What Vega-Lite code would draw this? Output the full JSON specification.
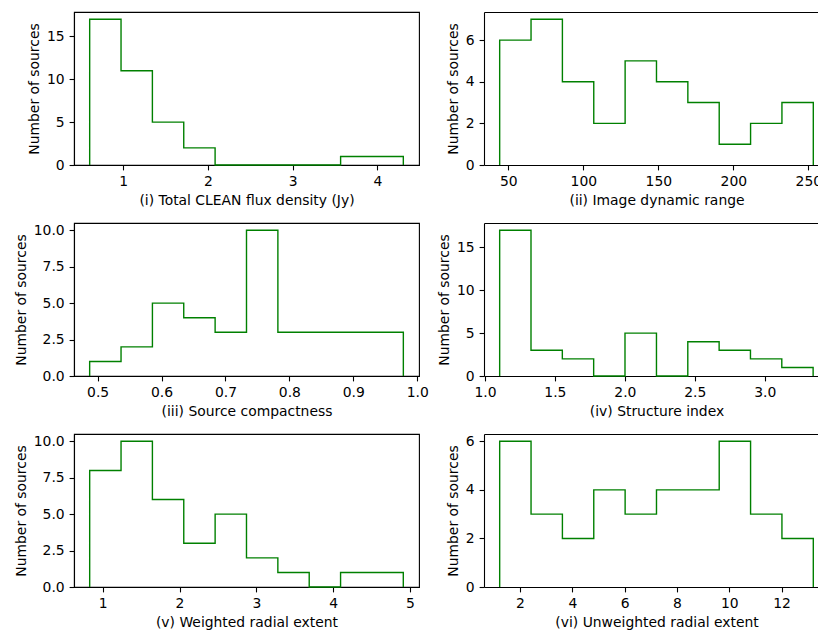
{
  "$schema": "https://vega.github.io/schema/vega-lite/v6.json",
  "padding": {"left": 13, "top": 11, "right": 0, "bottom": 0},
  "background": "white",
  "datasets": {
    "flux": [
      {"i": 0, "edge": 0.606, "n": 0}, {"i": 1, "edge": 0.606, "n": 17}, {"i": 2, "edge": 0.976, "n": 11},
      {"i": 3, "edge": 1.346, "n": 5}, {"i": 4, "edge": 1.716, "n": 2}, {"i": 5, "edge": 2.086, "n": 0},
      {"i": 6, "edge": 2.457, "n": 0}, {"i": 7, "edge": 2.827, "n": 0}, {"i": 8, "edge": 3.197, "n": 0},
      {"i": 9, "edge": 3.567, "n": 1}, {"i": 10, "edge": 3.937, "n": 1}, {"i": 11, "edge": 4.307, "n": 1},
      {"i": 12, "edge": 4.307, "n": 0}
    ],
    "dynrange": [
      {"i": 0, "edge": 44.2, "n": 0}, {"i": 1, "edge": 44.2, "n": 6}, {"i": 2, "edge": 65.11, "n": 7},
      {"i": 3, "edge": 86.02, "n": 4}, {"i": 4, "edge": 106.93, "n": 2}, {"i": 5, "edge": 127.84, "n": 5},
      {"i": 6, "edge": 148.75, "n": 4}, {"i": 7, "edge": 169.66, "n": 3}, {"i": 8, "edge": 190.57, "n": 1},
      {"i": 9, "edge": 211.48, "n": 2}, {"i": 10, "edge": 232.39, "n": 3}, {"i": 11, "edge": 253.3, "n": 3},
      {"i": 12, "edge": 253.3, "n": 0}
    ],
    "compactness": [
      {"i": 0, "edge": 0.4875, "n": 0}, {"i": 1, "edge": 0.4875, "n": 1}, {"i": 2, "edge": 0.5366, "n": 2},
      {"i": 3, "edge": 0.5857, "n": 5}, {"i": 4, "edge": 0.6347, "n": 4}, {"i": 5, "edge": 0.6838, "n": 3},
      {"i": 6, "edge": 0.7329, "n": 10}, {"i": 7, "edge": 0.782, "n": 3}, {"i": 8, "edge": 0.8311, "n": 3},
      {"i": 9, "edge": 0.8802, "n": 3}, {"i": 10, "edge": 0.9292, "n": 3}, {"i": 11, "edge": 0.9783, "n": 3},
      {"i": 12, "edge": 0.9783, "n": 0}
    ],
    "structure": [
      {"i": 0, "edge": 1.105, "n": 0}, {"i": 1, "edge": 1.105, "n": 17}, {"i": 2, "edge": 1.329, "n": 3},
      {"i": 3, "edge": 1.553, "n": 2}, {"i": 4, "edge": 1.777, "n": 0}, {"i": 5, "edge": 2.001, "n": 5},
      {"i": 6, "edge": 2.226, "n": 0}, {"i": 7, "edge": 2.45, "n": 4}, {"i": 8, "edge": 2.674, "n": 3},
      {"i": 9, "edge": 2.898, "n": 2}, {"i": 10, "edge": 3.122, "n": 1}, {"i": 11, "edge": 3.346, "n": 1},
      {"i": 12, "edge": 3.346, "n": 0}
    ],
    "weighted": [
      {"i": 0, "edge": 0.8306, "n": 0}, {"i": 1, "edge": 0.8306, "n": 8}, {"i": 2, "edge": 1.2388, "n": 10},
      {"i": 3, "edge": 1.647, "n": 6}, {"i": 4, "edge": 2.0552, "n": 3}, {"i": 5, "edge": 2.4634, "n": 5},
      {"i": 6, "edge": 2.8716, "n": 2}, {"i": 7, "edge": 3.2798, "n": 1}, {"i": 8, "edge": 3.688, "n": 0},
      {"i": 9, "edge": 4.0962, "n": 1}, {"i": 10, "edge": 4.5044, "n": 1}, {"i": 11, "edge": 4.9126, "n": 1},
      {"i": 12, "edge": 4.9126, "n": 0}
    ],
    "unweighted": [
      {"i": 0, "edge": 1.222, "n": 0}, {"i": 1, "edge": 1.222, "n": 6}, {"i": 2, "edge": 2.421, "n": 3},
      {"i": 3, "edge": 3.62, "n": 2}, {"i": 4, "edge": 4.819, "n": 4}, {"i": 5, "edge": 6.018, "n": 3},
      {"i": 6, "edge": 7.217, "n": 4}, {"i": 7, "edge": 8.416, "n": 4}, {"i": 8, "edge": 9.615, "n": 6},
      {"i": 9, "edge": 10.814, "n": 3}, {"i": 10, "edge": 12.013, "n": 2}, {"i": 11, "edge": 13.212, "n": 2},
      {"i": 12, "edge": 13.212, "n": 0}
    ]
  },
  "columns": 2,
  "bounds": "flush",
  "spacing": {"row": 58, "column": 65},
  "concat": [
    {
      "width": 345, "height": 153,
      "data": {"name": "flux"},
      "mark": {"type": "line", "interpolate": "step-after", "color": "#008000", "strokeWidth": 1.4},
      "encoding": {
        "order": {"field": "i", "type": "quantitative"},
        "x": {"field": "edge", "type": "quantitative",
              "scale": {"domain": [0.421, 4.492], "nice": false, "zero": false},
              "axis": {"values": [1, 2, 3, 4], "format": "d", "title": "(i) Total CLEAN flux density (Jy)"}},
        "y": {"field": "n", "type": "quantitative",
              "scale": {"domain": [0, 17.85], "nice": false},
              "axis": {"values": [0, 5, 10, 15], "format": "d", "title": "Number of sources"}}
      }
    },
    {
      "width": 335, "height": 153,
      "view": {"stroke": null},
      "data": {"name": "dynrange"},
      "encoding": {
        "order": {"field": "i", "type": "quantitative"},
        "y": {"field": "n", "type": "quantitative",
              "scale": {"domain": [0, 7.35], "nice": false},
              "axis": {"values": [0, 2, 4, 6], "format": "d", "title": "Number of sources"}}
      },
      "layer": [
        {
          "mark": {"type": "line", "interpolate": "step-after", "color": "#008000", "strokeWidth": 1.4},
          "encoding": {
            "x": {"field": "edge", "type": "quantitative",
                  "scale": {"domain": [33.75, 257.1], "nice": false, "zero": false},
                  "axis": {"orient": "bottom", "values": [50, 100, 150, 200, 250], "format": "d", "title": "(ii) Image dynamic range", "titleX": 172.5}}
          }
        },
        {
          "mark": {"type": "line", "strokeOpacity": 0},
          "encoding": {
            "x": {"field": "edge", "type": "quantitative",
                  "axis": {"orient": "top", "labels": false, "ticks": false, "title": null}}
          }
        }
      ]
    },
    {
      "width": 345, "height": 153,
      "data": {"name": "compactness"},
      "mark": {"type": "line", "interpolate": "step-after", "color": "#008000", "strokeWidth": 1.4},
      "encoding": {
        "order": {"field": "i", "type": "quantitative"},
        "x": {"field": "edge", "type": "quantitative",
              "scale": {"domain": [0.463, 1.0028], "nice": false, "zero": false},
              "axis": {"values": [0.5, 0.6, 0.7, 0.8, 0.9, 1.0], "format": ".1f", "title": "(iii) Source compactness"}},
        "y": {"field": "n", "type": "quantitative",
              "scale": {"domain": [0, 10.5], "nice": false},
              "axis": {"values": [0, 2.5, 5, 7.5, 10], "format": ".1f", "title": "Number of sources"}}
      }
    },
    {
      "width": 335, "height": 153,
      "view": {"stroke": null},
      "data": {"name": "structure"},
      "encoding": {
        "order": {"field": "i", "type": "quantitative"},
        "y": {"field": "n", "type": "quantitative",
              "scale": {"domain": [0, 17.85], "nice": false},
              "axis": {"values": [0, 5, 10, 15], "format": "d", "title": "Number of sources"}}
      },
      "layer": [
        {
          "mark": {"type": "line", "interpolate": "step-after", "color": "#008000", "strokeWidth": 1.4},
          "encoding": {
            "x": {"field": "edge", "type": "quantitative",
                  "scale": {"domain": [0.993, 3.388], "nice": false, "zero": false},
                  "axis": {"orient": "bottom", "values": [1.0, 1.5, 2.0, 2.5, 3.0], "format": ".1f", "title": "(iv) Structure index", "titleX": 172.5}}
          }
        },
        {
          "mark": {"type": "line", "strokeOpacity": 0},
          "encoding": {
            "x": {"field": "edge", "type": "quantitative",
                  "axis": {"orient": "top", "labels": false, "ticks": false, "title": null}}
          }
        }
      ]
    },
    {
      "width": 345, "height": 153,
      "data": {"name": "weighted"},
      "mark": {"type": "line", "interpolate": "step-after", "color": "#008000", "strokeWidth": 1.4},
      "encoding": {
        "order": {"field": "i", "type": "quantitative"},
        "x": {"field": "edge", "type": "quantitative",
              "scale": {"domain": [0.6265, 5.117], "nice": false, "zero": false},
              "axis": {"values": [1, 2, 3, 4, 5], "format": "d", "title": "(v) Weighted radial extent"}},
        "y": {"field": "n", "type": "quantitative",
              "scale": {"domain": [0, 10.5], "nice": false},
              "axis": {"values": [0, 2.5, 5, 7.5, 10], "format": ".1f", "title": "Number of sources"}}
      }
    },
    {
      "width": 335, "height": 153,
      "view": {"stroke": null},
      "data": {"name": "unweighted"},
      "encoding": {
        "order": {"field": "i", "type": "quantitative"},
        "y": {"field": "n", "type": "quantitative",
              "scale": {"domain": [0, 6.3], "nice": false},
              "axis": {"values": [0, 2, 4, 6], "format": "d", "title": "Number of sources"}}
      },
      "layer": [
        {
          "mark": {"type": "line", "interpolate": "step-after", "color": "#008000", "strokeWidth": 1.4},
          "encoding": {
            "x": {"field": "edge", "type": "quantitative",
                  "scale": {"domain": [0.6225, 13.43], "nice": false, "zero": false},
                  "axis": {"orient": "bottom", "values": [2, 4, 6, 8, 10, 12], "format": "d", "title": "(vi) Unweighted radial extent", "titleX": 172.5}}
          }
        },
        {
          "mark": {"type": "line", "strokeOpacity": 0},
          "encoding": {
            "x": {"field": "edge", "type": "quantitative",
                  "axis": {"orient": "top", "labels": false, "ticks": false, "title": null}}
          }
        }
      ]
    }
  ],
  "config": {
    "font": "DejaVu Sans",
    "view": {"stroke": "black", "strokeWidth": 1.1},
    "axis": {
      "zindex": 1,
      "grid": false,
      "domainColor": "black",
      "domainWidth": 1.1,
      "tickColor": "black",
      "tickWidth": 1.1,
      "tickSize": 4.9,
      "labelPadding": 4.9,
      "labelFontSize": 13.9,
      "labelColor": "black",
      "labelFlush": false,
      "labelOverlap": false,
      "titleFontSize": 13.9,
      "titleFontWeight": "normal",
      "titleColor": "black",
      "titlePadding": 5
    }
  }
}
